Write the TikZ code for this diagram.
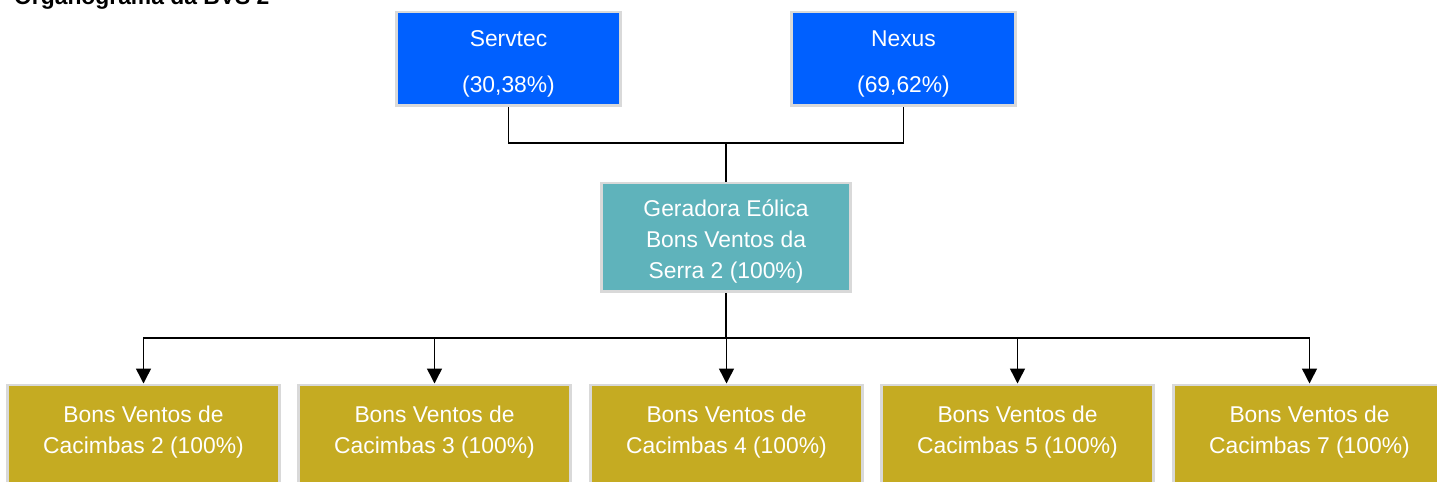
\documentclass[tikz,border=0pt]{standalone}
\usepackage{fontspec}
\setmainfont{Liberation Sans}
\usetikzlibrary{arrows.meta}

\definecolor{ownerblue}{HTML}{0060FF}
\definecolor{holdteal}{HTML}{5FB3BB}
\definecolor{parkgold}{HTML}{C5AB22}
\definecolor{rimgray}{HTML}{D9D9D9}

\tikzset{
    orgbox/.style={draw=rimgray, line width=1.5pt, text=white, align=center,
        font=\fontsize{13}{17.6}\selectfont, inner sep=0pt, anchor=north},
    link/.style={line width=0.85pt, black}
}

\begin{document}
\begin{tikzpicture}[x=0.02cm, y=-0.02cm, >={Triangle[width=0.3cm,length=0.3cm]}]
    \useasboundingbox (0,0) rectangle (1437,481);
    \node[anchor=base west, font=\fontsize{13}{16}\selectfont\bfseries] (title) at (8,4) {Organograma da BVS 2};
    % shareholders
    \node[orgbox, fill=ownerblue, minimum width=4.48cm, text height=1.62cm, text depth=0.26cm] (servtec) at (508.5,10.5) {Servtec\\[0.3cm](30,38\%)};
    \node[orgbox, fill=ownerblue, minimum width=4.48cm, text height=1.62cm, text depth=0.26cm] (nexus) at (903.5,10.5) {Nexus\\[0.3cm](69,62\%)};
    \node[orgbox, fill=holdteal, minimum width=4.98cm, text height=1.92cm, text depth=0.26cm] (geradora) at (726,181.5) {Geradora Eólica\\Bons Ventos da\\Serra 2 (100\%)};
    \coordinate (top-join) at (726,143);
    \coordinate (bot-join) at (726,338);
    \draw[link] (servtec.south) |- (top-join) -| (nexus.south);
    \draw[link] (top-join) -- (geradora.north);
    \draw[link] (geradora.south) -- (bot-join);
    % wind farms
    \foreach[count=\i] \num/\xpos in {2/143.5,3/434.5,4/726.5,5/1017.5,7/1309.5} {
        \node[orgbox, fill=parkgold, minimum width=5.44cm, text height=1.38cm, text depth=0.85cm] (cacimbas-\i) at (\xpos,383.5) {Bons Ventos de\\Cacimbas \num\ (100\%)};
        \draw[link, ->] (bot-join) -| (cacimbas-\i.north);
    }
\end{tikzpicture}
\end{document}
